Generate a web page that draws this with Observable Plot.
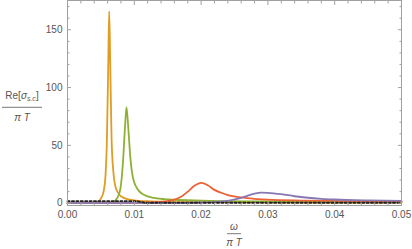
<!DOCTYPE html>
<html><head><meta charset="utf-8">
<script src="https://cdn.jsdelivr.net/npm/d3@7"></script>
<script src="https://cdn.jsdelivr.net/npm/@observablehq/plot@0.6"></script>
<style>body{margin:0;background:#fff;} #chart svg{display:block;}</style>
</head><body><div id="chart"></div>
<script>
// series: omega/(pi T) and Re[sigma_sc]/(pi T)
const orangeX = [0, 0.004, 0.0045, 0.005, 0.0054, 0.0057, 0.0059, 0.0061, 0.00624, 0.0064, 0.0066, 0.0069, 0.0073, 0.008, 0.009, 0.010, 0.012, 0.015, 0.020, 0.030, 0.050];
const orangeY = [0, 0.2, 1, 4, 10, 25, 55, 120, 166, 120, 55, 25, 12, 6, 3.5, 2.5, 1.7, 1.2, 0.9, 0.7, 0.5];

const greenX = [0, 0.006, 0.0068, 0.0074, 0.0079, 0.0083, 0.0086, 0.00883, 0.0091, 0.0094, 0.0098, 0.0105, 0.0115, 0.013, 0.015, 0.020, 0.030, 0.040, 0.050];
const greenY = [0, 0.3, 1, 4, 12, 35, 65, 83, 65, 40, 22, 12, 7, 4.5, 3.2, 2.2, 1.5, 1.2, 1.0];

const redX = [0, 0.010, 0.013, 0.015, 0.016, 0.017, 0.018, 0.019, 0.020, 0.021, 0.022, 0.023, 0.024, 0.026, 0.028, 0.030, 0.035, 0.040, 0.045, 0.050];
const redY = [0, 0.3, 0.8, 1.8, 3, 5.5, 10, 15, 17.5, 15.5, 11.5, 9, 7, 5, 3.8, 3, 2.3, 2, 1.7, 1.5];

const purpleX = [0, 0.015, 0.020, 0.022, 0.024, 0.026, 0.027, 0.028, 0.029, 0.030, 0.032, 0.034, 0.036, 0.038, 0.040, 0.045, 0.050];
const purpleY = [0, 0.2, 0.6, 1, 2, 4.5, 6.5, 8.3, 9.2, 9, 7.8, 6, 4.7, 3.8, 3.2, 2.4, 2];

const dashedX = [0, 0.0105, 0.0115, 0.050];
const dashedY = [1.7, 1.7, 0.4, 0.4];

const xMajor = [0, 0.01, 0.02, 0.03, 0.04, 0.05];
const xMinor = [0.002,0.004,0.006,0.008,0.012,0.014,0.016,0.018,0.022,0.024,0.026,0.028,0.032,0.034,0.036,0.038,0.042,0.044,0.046,0.048];
const yMajor = [0, 50, 100, 150];
const yMinor = [10,20,30,40,60,70,80,90,110,120,130,140,160,170];

const series = [
  {name:"orange", xs: orangeX, ys: orangeY, color:"#E19C24"},
  {name:"green", xs: greenX, ys: greenY, color:"#8FB032"},
  {name:"red", xs: redX, ys: redY, color:"#EB6235"},
  {name:"purple", xs: purpleX, ys: purpleY, color:"#8778B3"}
];
const rows = s => s.xs.map((x,i)=>({x, y: s.ys[i]}));
const dashedRows = dashedX.map((x,i)=>({x, y: dashedY[i]}));

const frameGray = "#a0a0a0";
const textGray = "#555";

function fraction(num, den, cx, yNum, yLine, yDen, half) {
  return () => {
    const g = d3.create("svg:g").attr("fill", textGray).attr("font-size", 10);
    const t = g.append("text").attr("x", cx).attr("y", yNum).attr("text-anchor","middle");
    num(t);
    g.append("line").attr("x1", cx-half).attr("x2", cx+half).attr("y1", yLine).attr("y2", yLine)
      .attr("stroke", textGray).attr("stroke-width", 0.8);
    const b = g.append("text").attr("x", cx).attr("y", yDen).attr("text-anchor","middle").attr("font-style","italic");
    b.text(den);
    return g.node();
  };
}

const yLabel = fraction(t => {
  t.append("tspan").text("Re[");
  t.append("tspan").attr("font-style","italic").text("σ");
  t.append("tspan").attr("font-style","italic").attr("font-size",7).attr("dy",2).text("s.c");
  t.append("tspan").attr("dy",-2).text("]");
}, "π T", 22, 99, 107.3, 121, 20);

const xLabel = fraction(t => {
  t.append("tspan").attr("font-style","italic").text("ω");
}, "π T", 234, 229.5, 233.7, 246, 7);

const plot = Plot.plot({
  width: 412, height: 249,
  marginLeft: 67, marginRight: 11, marginTop: 0, marginBottom: 44,
  x: {domain: [0, 0.05]},
  y: {domain: [-2, 175.3]},
  style: {fontFamily: "'Liberation Sans', Arial, sans-serif", fontSize: "10px", color: textGray, background: "white"},
  marks: [
    ...series.map(s => Plot.line(rows(s), {x:"x", y:"y", stroke: s.color, strokeWidth: 1.8, curve: "monotone-x"})),
    Plot.line(dashedRows, {x:"x", y:"y", stroke:"#222", strokeWidth: 1.8, strokeDasharray: "2.2,2.2"}),
    Plot.frame({stroke: frameGray}),
    Plot.axisX(xMajor, {anchor:"bottom", tickSize:-4, fill:"none", stroke: frameGray, label:null}),
    Plot.axisX(xMinor, {anchor:"bottom", tickSize:-2.5, fill:"none", stroke: frameGray, label:null}),
    Plot.axisX(xMajor, {anchor:"top", tickSize:-4, fill:"none", stroke: frameGray, label:null}),
    Plot.axisX(xMinor, {anchor:"top", tickSize:-2.5, fill:"none", stroke: frameGray, label:null}),
    Plot.axisY(yMajor, {anchor:"left", tickSize:-4, fill:"none", stroke: frameGray, label:null}),
    Plot.axisY(yMinor, {anchor:"left", tickSize:-2.5, fill:"none", stroke: frameGray, label:null}),
    Plot.axisY(yMajor, {anchor:"right", tickSize:-4, fill:"none", stroke: frameGray, label:null}),
    Plot.axisY(yMinor, {anchor:"right", tickSize:-2.5, fill:"none", stroke: frameGray, label:null}),
    Plot.axisX(xMajor, {anchor:"bottom", tickSize:0, tickPadding:5, tickFormat: d3.format(".2f"), fill: textGray, label:null}),
    Plot.axisY(yMajor, {anchor:"left", tickSize:0, tickPadding:5, tickFormat: d3.format("d"), fill: textGray, label:null}),
    yLabel,
    xLabel
  ]
});
document.getElementById("chart").appendChild(plot);
</script>
</body></html>
